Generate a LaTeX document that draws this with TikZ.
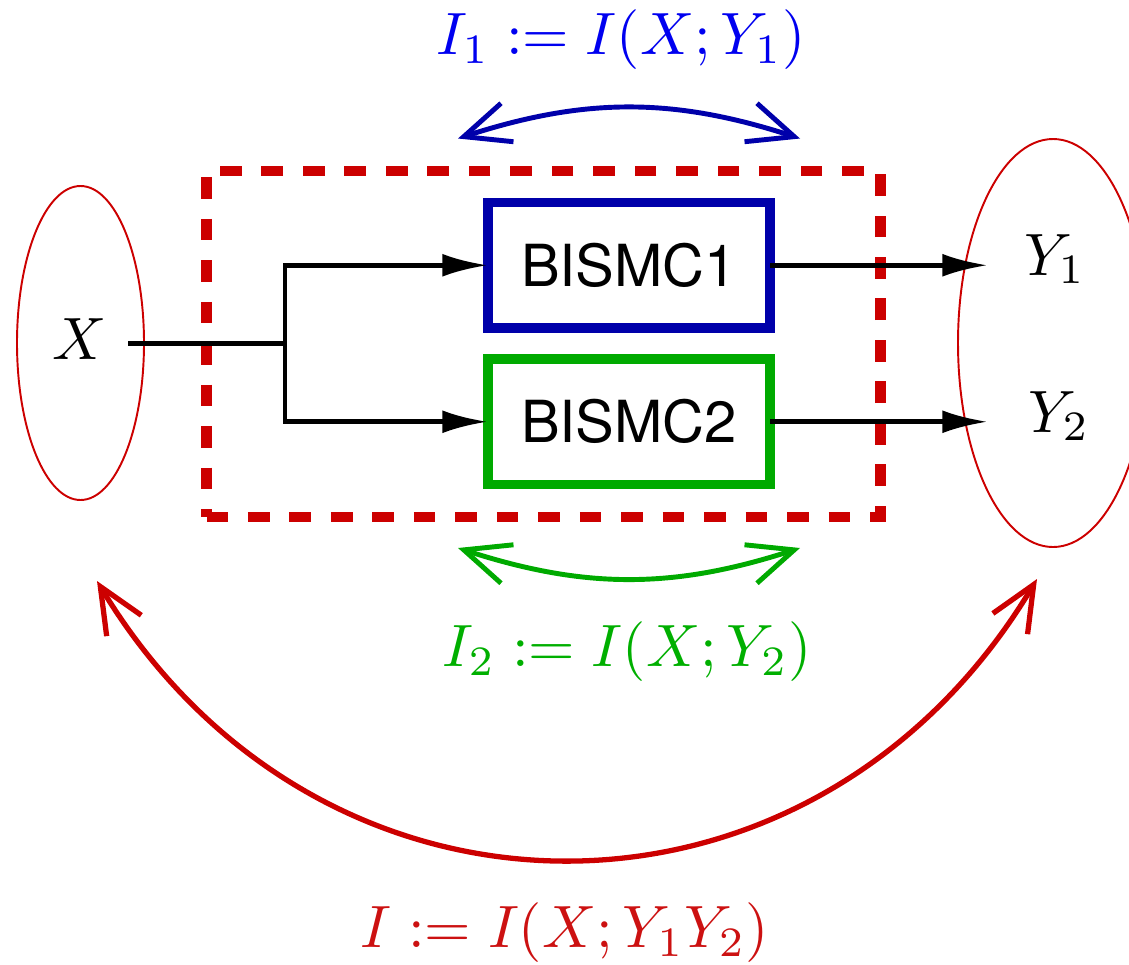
\documentclass[tikz,border=0pt]{standalone}
\usepackage{fontspec}
\newfontfamily\boxfont{TeX Gyre Heros}
\usepackage{tikz}
\usetikzlibrary{arrows.meta,positioning,shapes.geometric}
\usepackage{xcolor}
\definecolor{cRed}{RGB}{204,0,0}
\definecolor{cBlue}{RGB}{0,0,170}
\definecolor{cGreen}{RGB}{0,170,0}
\definecolor{cBlueTxt}{RGB}{0,0,240}
\definecolor{cGreenTxt}{RGB}{0,175,0}
\definecolor{cRedTxt}{RGB}{204,17,17}

\begin{document}
\begin{tikzpicture}[
    channel/.style={rectangle,draw,line width=5.6pt,minimum width=5.64cm,minimum height=2.51cm,outer sep=0pt,font=\boxfont\fontsize{33}{40}\selectfont},
    side/.style={ellipse,draw=cRed,line width=1.1pt,inner sep=0pt},
    wire/.style={line width=2.8pt,>={Latex[length=26pt,width=13pt]}},
    info/.style={line width=2.8pt,>={Straight Barb[length=26pt,width=23pt]},<->},
    lbl/.style={scale=3.4,inner sep=0pt}
  ]
  \useasboundingbox (0,0) rectangle (22.58,-19.28);
  % Inputs and outputs
  \node[side,minimum width=2.54cm,minimum height=6.28cm] (ellX) at (1.61,-6.86) {};
  \node[side,minimum width=3.8cm,minimum height=8.16cm]  (ellY) at (21.06,-6.86) {};
  \node[lbl] (lx) at (1.6,-6.78) {$X$};
  \node[lbl,anchor=base west] (y1) at (20.46,-5.5) {$Y_1$};
  \node[lbl,anchor=base west] (y2) at (20.54,-8.64) {$Y_2$};
  % Channels
  \node[draw=cRed,dashed,line width=6pt,dash pattern=on 12.3pt off 11.3pt,minimum width=13.48cm,minimum height=6.92cm] (grp) at (10.87,-6.88) {};
  \node[channel,draw=cBlue]  (b1) at (12.58,-5.305) {BISMC1};
  \node[channel,draw=cGreen] (b2) at (12.58,-8.435) {BISMC2};
  % Wires
  \coordinate (xout) at (2.56,-6.87);
  \coordinate (sp) at (5.7,-6.87);
  \coordinate (yin) at (19.76,-6.87);
  \draw[wire] (xout) -- (sp);
  \draw[wire,->] (sp) |- (b1.west);
  \draw[wire,->] (sp) |- (b2.west);
  \draw[wire,->] (b1.east) -- (b1.east -| yin);
  \draw[wire,->] (b2.east) -- (b2.east -| yin);
  % Mutual information arcs
  \coordinate (a1l) at (9.16,-2.77);
  \coordinate (a1r) at (16.0,-2.77);
  \coordinate (a2l) at (9.16,-10.96);
  \coordinate (a2r) at (16.0,-10.96);
  \coordinate (a3l) at (1.94,-11.62);
  \coordinate (a3r) at (20.74,-11.58);
  \draw[info,cBlue]  (a1l) to[bend left=18] (a1r);
  \draw[info,cGreen] (a2l) to[bend right=18] (a2r);
  \draw[info,cRed,line width=3pt] (a3l) to[bend right=59,looseness=1.18] (a3r);
  % Labels
  \node[lbl,text=cBlueTxt]  (lI1) at (12.42,-0.8)   {$I_1 := I(X;Y_1)$};
  \node[lbl,text=cGreenTxt] (lI2) at (12.54,-13.04) {$I_2 := I(X;Y_2)$};
  \node[lbl,text=cRedTxt]   (lI)  at (11.3,-18.66)  {$I := I(X;Y_1Y_2)$};
\end{tikzpicture}
\end{document}
